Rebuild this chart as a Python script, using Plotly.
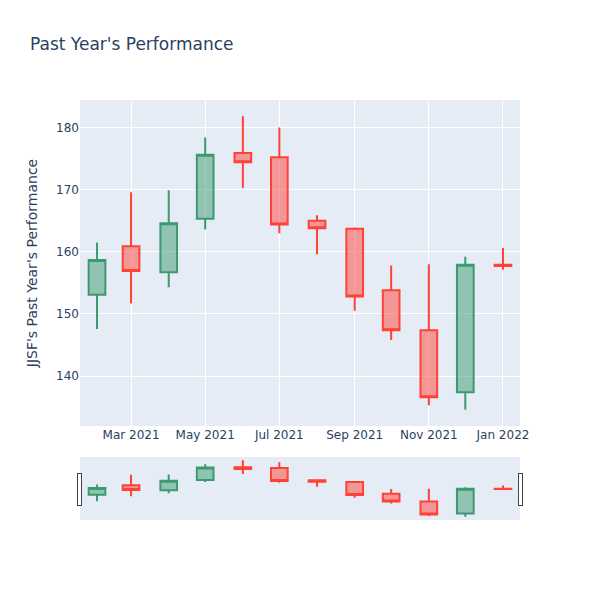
import plotly.graph_objects as go

dates = ["2021-02-01", "2021-03-01", "2021-04-01", "2021-05-01", "2021-06-01", "2021-07-01",
         "2021-08-01", "2021-09-01", "2021-10-01", "2021-11-01", "2021-12-01", "2022-01-01"]
opens = [153.1, 160.9, 156.7, 165.3, 175.9, 175.2, 165.0, 163.7, 153.8, 147.4, 137.4, 157.9]
highs = [161.5, 169.6, 169.9, 178.4, 181.8, 180.0, 165.9, 163.9, 157.8, 158.0, 159.2, 160.6]
lows = [147.6, 151.7, 154.3, 163.6, 170.3, 163.0, 159.6, 150.5, 145.8, 135.3, 134.6, 157.1]
closes = [158.7, 156.9, 164.6, 175.6, 174.4, 164.4, 163.8, 152.8, 147.4, 136.6, 157.9, 157.7]

fig = go.Figure(go.Candlestick(x=dates, open=opens, high=highs, low=lows, close=closes))
fig.update_layout(
    font=dict(family="DejaVu Sans"),
    title=dict(text="Past Year's Performance", x=22 / 600, y=1 - 36 / 600, yanchor="middle"),
    yaxis_title="JJSF's Past Year's Performance",
    width=600, height=600,
    margin=dict(l=72, r=88, t=92, b=88),
)
fig.write_html("out.html")
